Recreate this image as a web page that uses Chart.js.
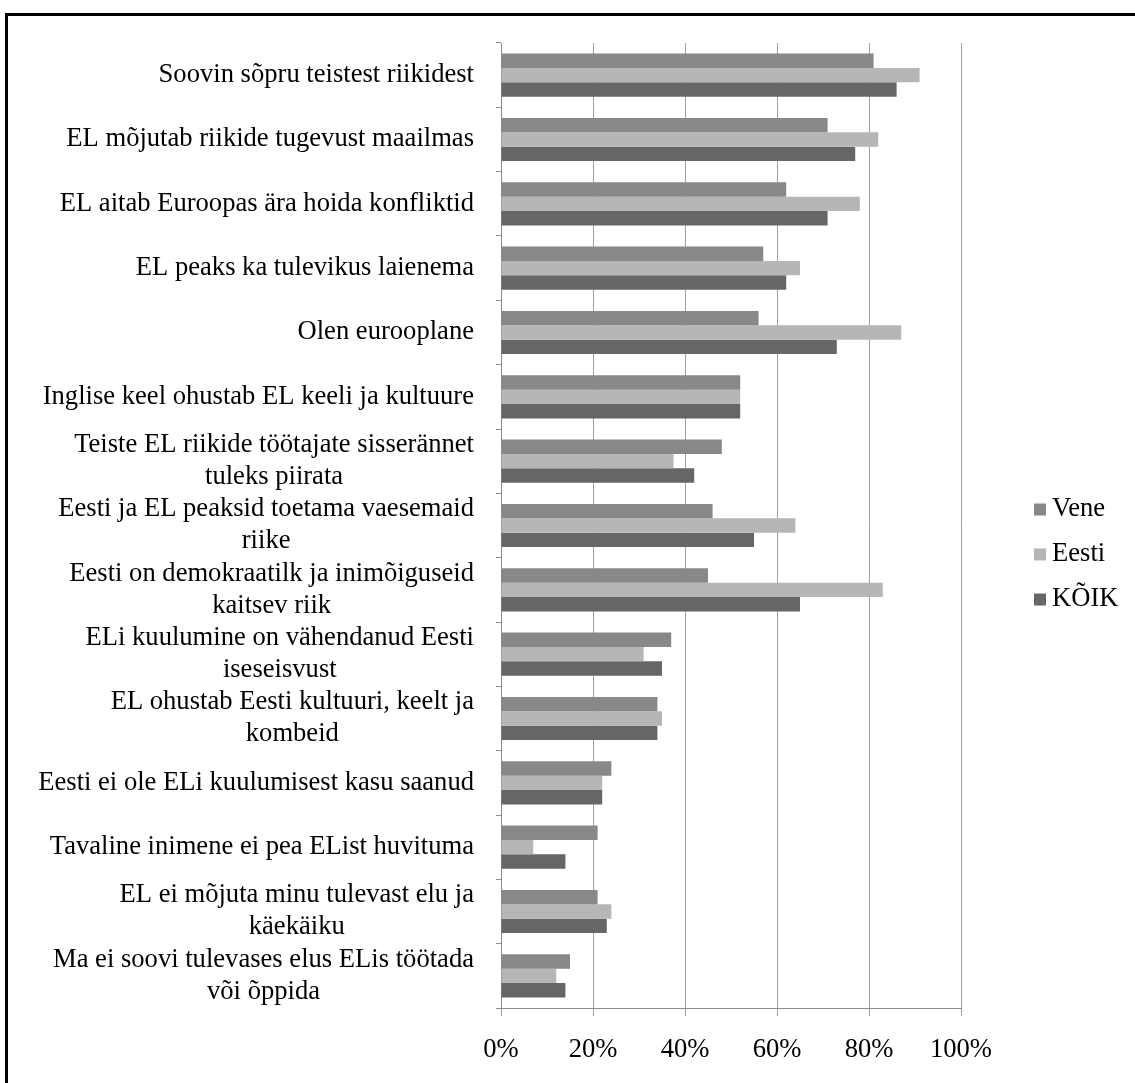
<!DOCTYPE html>
<html>
<head>
<meta charset="utf-8">
<script src="https://cdn.jsdelivr.net/npm/chart.js@4.4.0/dist/chart.umd.min.js"></script>
<style>
  html, body { margin: 0; padding: 0; background: #fff; }
  #wrap { position: relative; width: 1135px; height: 1083px; overflow: hidden; }
  #frame { position: absolute; left: 5px; top: 13px; width: 1200px; height: 1200px;
           border-left: 3px solid #000; border-top: 3px solid #000; }
  #chart { position: absolute; left: 0; top: 0; }
</style>
</head>
<body>
<div id="wrap">
  <div id="frame"></div>
  <canvas id="chart" width="1135" height="1083"></canvas>
</div>
<script>
// Category labels (multi-line ones split into lines)
const categories = [
  ["Soovin sõpru teistest riikidest"],
  ["EL mõjutab riikide tugevust maailmas"],
  ["EL aitab Euroopas ära hoida konfliktid"],
  ["EL peaks ka tulevikus laienema"],
  ["Olen eurooplane"],
  ["Inglise keel ohustab EL keeli ja kultuure"],
  ["Teiste EL riikide töötajate sisserännet", "tuleks piirata"],
  ["Eesti ja EL peaksid toetama vaesemaid", "riike"],
  ["Eesti on demokraatilk ja inimõiguseid", "kaitsev riik"],
  ["ELi kuulumine on vähendanud Eesti", "iseseisvust"],
  ["EL ohustab Eesti kultuuri, keelt ja", "kombeid"],
  ["Eesti ei ole ELi kuulumisest kasu saanud"],
  ["Tavaline inimene ei pea EList huvituma"],
  ["EL ei mõjuta minu tulevast elu ja", "käekäiku"],
  ["Ma ei soovi tulevases elus ELis töötada", "või õppida"]
];

const seriesNames = ["Vene", "Eesti", "KÕIK"];
const seriesColors = ["#888888", "#b6b6b6", "#666666"];

// values in percent
const veneValues  = [81, 71, 62, 57, 56, 52, 48, 46, 45, 37, 34, 24, 21, 21, 15];
const eestiValues = [91, 82, 78, 65, 87, 52, 37.5, 64, 83, 31, 35, 22, 7, 24, 12];
const koikValues  = [86, 77, 71, 62, 73, 52, 42, 55, 65, 35, 34, 22, 14, 23, 14];

const xTicks = [0, 20, 40, 60, 80, 100];

const FONT = "'Liberation Serif', 'Times New Roman', serif";
const FONT_SIZE = 26.6;

// draws the centered multi-line category labels next to the y axis
const categoryLabels = {
  id: 'categoryLabels',
  afterDraw(chart) {
    const ctx = chart.ctx;
    const yScale = chart.scales.y;
    const rightEdge = yScale.right - 27;
    const lineHeight = 32;
    ctx.save();
    ctx.font = FONT_SIZE + 'px ' + FONT;
    ctx.fillStyle = '#000';
    ctx.textAlign = 'center';
    ctx.textBaseline = 'middle';
    categories.forEach(function(lines, i) {
      const yc = yScale.getPixelForTick(i);
      let maxW = 0;
      lines.forEach(function(l) { maxW = Math.max(maxW, ctx.measureText(l).width); });
      const xc = rightEdge - maxW / 2;
      const startY = yc - (lines.length - 1) * lineHeight / 2;
      lines.forEach(function(l, j) {
        ctx.fillText(l, xc, startY + j * lineHeight);
      });
    });
    ctx.restore();
  }
};

// simple legend on the right, stacked vertically
const sideLegend = {
  id: 'sideLegend',
  afterDraw(chart) {
    const ctx = chart.ctx;
    const area = chart.chartArea;
    const x = area.right + 73;
    const yMid = (area.top + area.bottom) / 2 + 29;
    const gap = 45;
    ctx.save();
    ctx.font = FONT_SIZE + 'px ' + FONT;
    ctx.textBaseline = 'middle';
    ctx.textAlign = 'left';
    chart.data.datasets.forEach(function(ds, i) {
      const y = yMid + (i - 1) * gap;
      ctx.fillStyle = ds.backgroundColor;
      ctx.fillRect(x, y - 6, 12, 12);
      ctx.fillStyle = '#000';
      ctx.fillText(ds.label, x + 18, y);
    });
    ctx.restore();
  }
};

const datasets = [veneValues, eestiValues, koikValues].map(function(vals, i) {
  return {
    label: seriesNames[i],
    data: vals,
    backgroundColor: seriesColors[i],
    borderWidth: 0,
    categoryPercentage: 0.67,
    barPercentage: 1.0
  };
});

new Chart(document.getElementById('chart'), {
  type: 'bar',
  data: {
    labels: categories.map(function(l) { return l.join(' '); }),
    datasets: datasets
  },
  options: {
    indexAxis: 'y',
    responsive: false,
    animation: false,
    layout: { padding: { top: 43, right: 174, left: 0, bottom: 0 } },
    plugins: {
      legend: { display: false },
      tooltip: { enabled: false }
    },
    scales: {
      y: {
        afterFit: function(scale) { scale.width = 501; },
        ticks: { display: false },
        grid: {
          offset: true,
          drawOnChartArea: false,
          drawTicks: true,
          tickLength: 5,
          color: '#8c8c8c'
        },
        border: { display: true, color: '#8c8c8c' }
      },
      x: {
        min: 0,
        max: 100,
        afterFit: function(scale) { scale.height = 75; },
        afterBuildTicks: function(scale) {
          scale.ticks = xTicks.map(function(v) { return { value: v }; });
        },
        ticks: {
          color: '#000',
          padding: 18,
          font: { family: FONT, size: FONT_SIZE },
          callback: function(v) { return v + '%'; }
        },
        grid: {
          color: '#a0a0a0',
          tickLength: 8
        },
        border: { display: true, color: '#8c8c8c' }
      }
    }
  },
  plugins: [categoryLabels, sideLegend]
});
</script>
</body>
</html>
